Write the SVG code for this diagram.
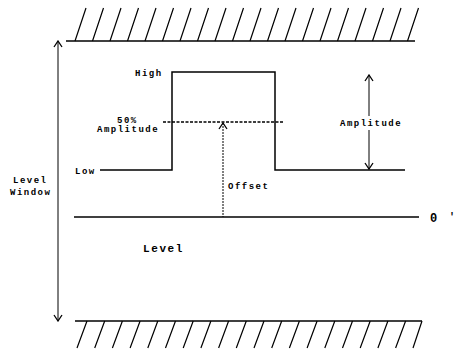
<svg xmlns="http://www.w3.org/2000/svg" width="454" height="358" viewBox="0 0 454 358">
<style>
.t{font-family:"Liberation Mono","DejaVu Sans Mono",monospace;font-size:9px;font-weight:bold;letter-spacing:1.5px;fill:#000}
.ln{stroke:#000;stroke-width:1.5;fill:none}
.th{stroke:#000;stroke-width:1;fill:none}
.hh{stroke:#000;stroke-width:1.2;fill:none}
</style>
<defs>
<marker id="ah" viewBox="0 0 10 10" refX="9" refY="5" markerWidth="10" markerHeight="10" markerUnits="userSpaceOnUse" orient="auto-start-reverse">
<polyline points="3,1 9,5 3,9" fill="none" stroke="#000" stroke-width="1.3"/>
</marker>
</defs>
<rect width="454" height="358" fill="#fff"/>
<g id="top-wall">
<line class="ln" x1="66" y1="41" x2="415" y2="41"/>
<path class="hh" d="M75 41L86 8M92.5 41L103.5 8M110 41L121 8M127.5 41L138.5 8M145 41L156 8M162.5 41L173.5 8M180 41L191 8M197.5 41L208.5 8M215 41L226 8M232.5 41L243.5 8M250 41L261 8M267.5 41L278.5 8M285 41L296 8M302.5 41L313.5 8M320 41L331 8M337.5 41L348.5 8M355 41L366 8M372.5 41L383.5 8M390 41L401 8M407.5 41L418.5 8"/>
</g>
<g id="bottom-wall">
<line class="ln" x1="75" y1="321" x2="422" y2="321"/>
<path class="hh" d="M87 321L77 348M104.7 321L94.7 348M122.4 321L112.4 348M140.1 321L130.1 348M157.8 321L147.8 348M175.5 321L165.5 348M193.2 321L183.2 348M210.9 321L200.9 348M228.6 321L218.6 348M246.3 321L236.3 348M264 321L254 348M281.7 321L271.7 348M299.4 321L289.4 348M317.1 321L307.1 348M334.8 321L324.8 348M352.5 321L342.5 348M370.2 321L360.2 348M387.9 321L377.9 348M405.6 321L395.6 348M422 321L413 348"/>
</g>
<g id="signal">
<polyline class="ln" points="100,170 172,170 172,72 275,72 275,170 405,170"/>
</g>
<g id="zero-line">
<line class="ln" x1="74" y1="217" x2="419" y2="217"/>
</g>
<g id="midline">
<line x1="163" y1="122" x2="283" y2="122" stroke="#000" stroke-width="1.5" stroke-dasharray="3,1.5"/>
</g>
<g id="connectors">
<line class="th" x1="58" y1="41" x2="58" y2="321" marker-start="url(#ah)" marker-end="url(#ah)"/>
<line class="th" x1="369" y1="75" x2="369" y2="116" marker-start="url(#ah)"/>
<line class="th" x1="369" y1="130" x2="369" y2="169" marker-end="url(#ah)"/>
<line class="th" x1="223" y1="123" x2="223" y2="217" stroke-dasharray="2,1" marker-start="url(#ah)"/>
</g>
<g id="labels">
<text class="t" x="135" y="76">High</text>
<text class="t" x="117" y="123">50%</text>
<text class="t" x="97" y="132">Amplitude</text>
<text class="t" x="75" y="174">Low</text>
<text class="t" x="13" y="183">Level</text>
<text class="t" x="10" y="195">Window</text>
<text class="t" x="228" y="189">Offset</text>
<text class="t" x="340" y="126">Amplitude</text>
<text class="t" x="143" y="252" style="font-size:11px;letter-spacing:1.6px">Level</text>
<text class="t" x="430" y="222" style="font-size:12px;letter-spacing:0">0</text>
<text class="t" x="449" y="220" style="font-size:10px;letter-spacing:0">'</text>
</g>
</svg>
